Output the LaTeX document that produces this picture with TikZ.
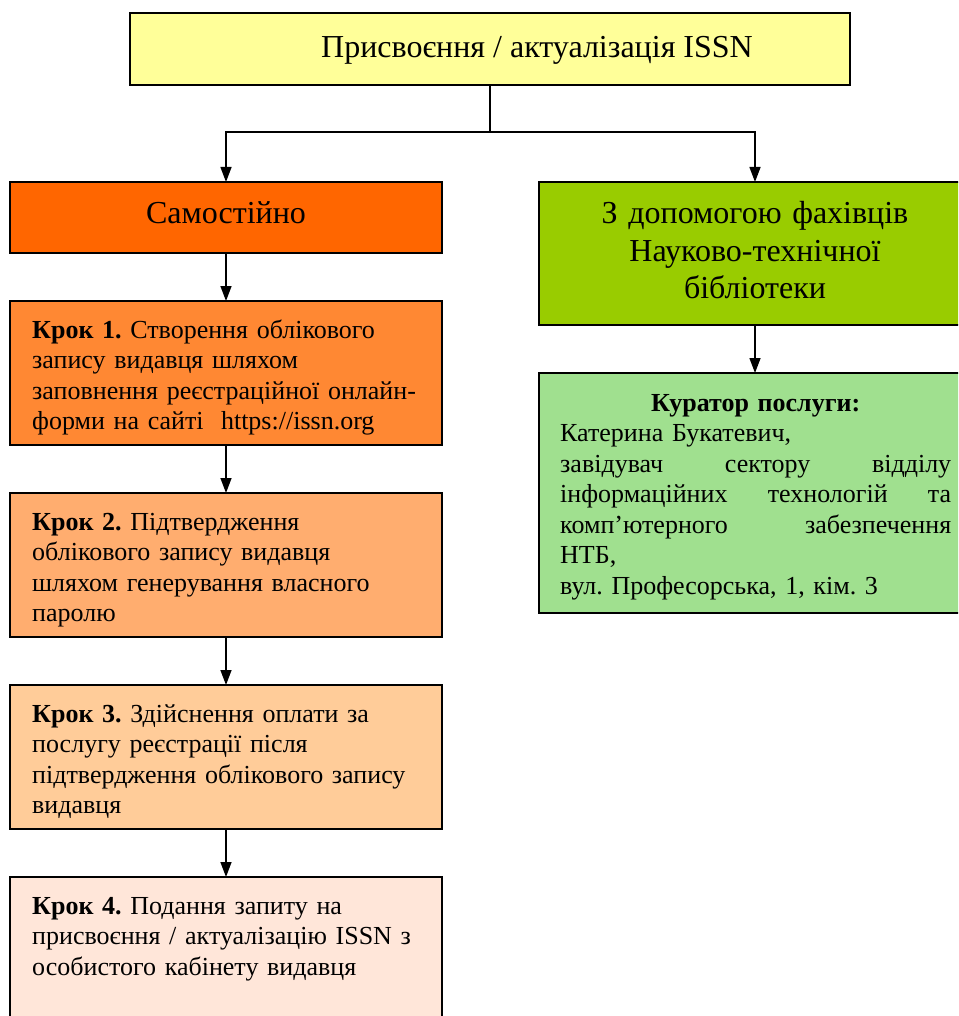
\documentclass[tikz,border=0pt]{standalone}
\usepackage{fontspec}
\setmainfont{Liberation Serif}
\usetikzlibrary{arrows.meta}
\definecolor{cTop}{HTML}{FFFF99}
\definecolor{cSam}{HTML}{FF6600}
\definecolor{cGreen}{HTML}{99CC00}
\definecolor{cKa}{HTML}{FF8833}
\definecolor{cKb}{HTML}{FFAD6F}
\definecolor{cKc}{HTML}{FFCC99}
\definecolor{cKd}{HTML}{FFE6D9}
\definecolor{cCur}{HTML}{A0E08F}
\frenchspacing
\begin{document}
\begin{tikzpicture}[x=1pt,y=-1pt,
  box/.style={draw=black,line width=1.6pt,minimum width=432pt,minimum height=144pt,inner sep=0pt,outer sep=0pt,anchor=north west},
  conn/.style={line width=1.4pt,-{Triangle[length=15pt,width=11pt]}},
  plain/.style={line width=1.4pt},
  steptext/.style={anchor=base west,inner sep=0pt,align=left,text width=410pt,font=\fontsize{26}{30.5}\selectfont},
  bigtext/.style={inner sep=0pt,font=\fontsize{32}{37}\selectfont}]
\useasboundingbox (0,0) rectangle (958,1016);
\clip (0,0) rectangle (958,1016);
% boxes
\node[box,fill=cTop,minimum width=720pt,minimum height=72pt] (top) at (130,13) {};
\node[box,fill=cSam,minimum height=71pt] (sam) at (10,182) {};
\node[box,fill=cGreen,minimum height=143pt] (grn) at (539,182) {};
\node[box,fill=cKa] (k1) at (10,301) {};
\node[box,fill=cKb] (k2) at (10,493) {};
\node[box,fill=cKc] (k3) at (10,685) {};
\node[box,fill=cKd,minimum height=200pt] (k4) at (10,877) {};
\node[box,fill=cCur,minimum height=240pt] (cur) at (539,373) {};
% texts
\node[bigtext,anchor=base] (ttop) at (537,58) {Присвоєння / актуалізація ISSN};
\node[bigtext,anchor=base] (tsam) at (226,223) {Самостійно};
\node[bigtext,anchor=base,align=center,text width=420pt] (tgrn) at (755,224) {З допомогою фахівців\\Науково-технічної\\бібліотеки};
\node[steptext] (t1) at (32,338) {\textbf{Крок 1.} Створення облікового\\запису видавця шляхом\\заповнення реєстраційної онлайн-\\форми на сайті\ \ https://issn.org};
\node[steptext] (t2) at (32,530) {\textbf{Крок 2.} Підтвердження\\облікового запису видавця\\шляхом генерування власного\\паролю};
\node[steptext] (t3) at (32,722) {\textbf{Крок 3.} Здійснення оплати за\\послугу реєстрації після\\підтвердження облікового запису\\видавця};
\node[steptext] (t4) at (32,914) {\textbf{Крок 4.} Подання запиту на\\присвоєння / актуалізацію ISSN з\\особистого кабінету видавця};
\node[steptext,text width=391pt] (tcur) at (560,411) {\makebox[391pt][c]{\textbf{Куратор послуги:}}\\
Катерина Букатевич,\\
\makebox[391pt][l]{завідувач\hfill сектору\hfill відділу}\\
\makebox[391pt][l]{інформаційних\hfill технологій\hfill та}\\
\makebox[391pt][l]{комп’ютерного\hfill забезпечення}\\
НТБ,\\
вул. Професорська, 1, кім. 3};
% connectors
\coordinate (split) at (490,132);
\draw[plain] (top.south) -- (top.south |- split);
\draw[conn] (top.south |- split) -| (sam.north);
\draw[conn] (top.south |- split) -| (grn.north);
\draw[conn] (sam.south) -- (k1.north);
\draw[conn] (k1.south) -- (k2.north);
\draw[conn] (k2.south) -- (k3.north);
\draw[conn] (k3.south) -- (k4.north);
\draw[conn] (grn.south) -- (cur.north);
\end{tikzpicture}
\end{document}
